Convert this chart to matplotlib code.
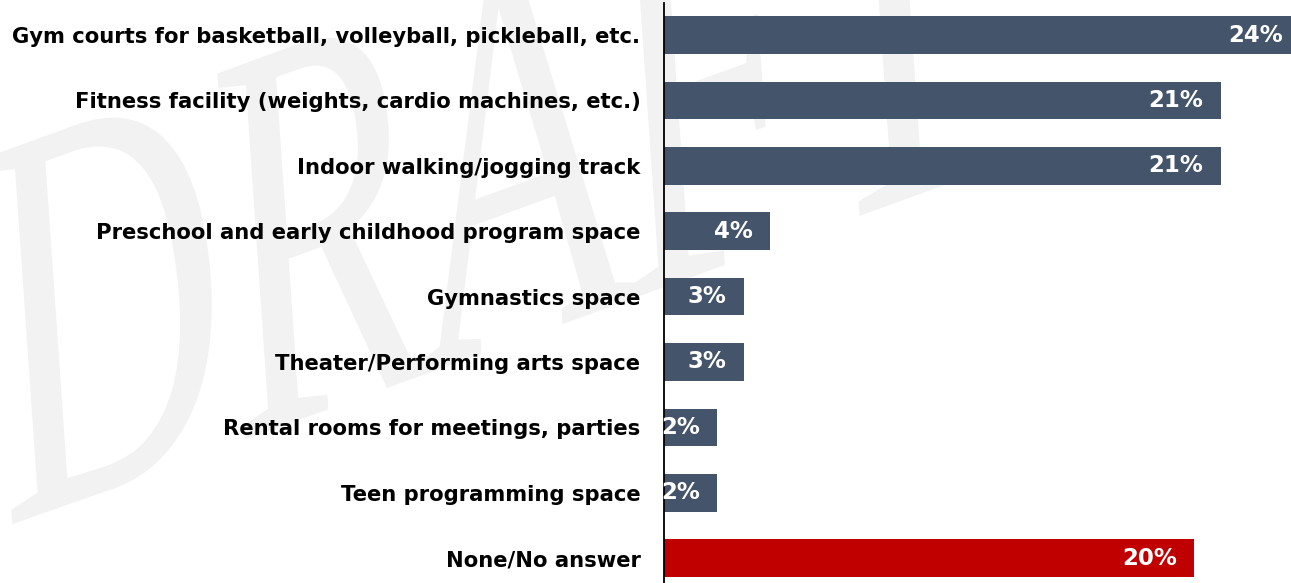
import matplotlib
matplotlib.use('Agg')
import matplotlib.pyplot as plt
from matplotlib.textpath import TextPath
from matplotlib.patches import PathPatch
from matplotlib.font_manager import FontProperties
from matplotlib.transforms import Affine2D, IdentityTransform

# data
categories = [
    'Gym courts for basketball, volleyball, pickleball, etc.',
    'Fitness facility (weights, cardio machines, etc.)',
    'Indoor walking/jogging track',
    'Preschool and early childhood program space',
    'Gymnastics space',
    'Theater/Performing arts space',
    'Rental rooms for meetings, parties',
    'Teen programming space',
    'None/No answer',
]
values = [24, 21, 21, 4, 3, 3, 2, 2, 20]
colors = ['#44546a'] * 8 + ['#c00000']

fig = plt.figure(figsize=(12.91, 5.83), dpi=100)

# DRAFT watermark, stretched tall like the original, in pixel coords
wm = TextPath((0, 0), 'DRAFT', size=1,
              prop=FontProperties(family='Liberation Serif', style='italic'))
wm_tf = Affine2D().scale(340, 540).skew_deg(10, 0).rotate_deg(20).translate(16, 60)
fig.patches.append(PathPatch(wm_tf.transform_path(wm), facecolor='#f2f2f2',
                             edgecolor='none', transform=IdentityTransform(),
                             figure=fig, zorder=-5))

ax = fig.add_axes([664 / 1291, 0, 627 / 1291, 580 / 583])
ax.patch.set_alpha(0)
ax.set_zorder(1)

y = list(range(len(categories)))
ax.barh(y, values, height=0.575, color=colors, zorder=2)

for yi, v in zip(y, values):
    ax.annotate(f'{v}%', xy=(v, yi), xytext=(-17, 0), textcoords='offset pixels',
                ha='right', va='center', color='white', fontsize=16.5,
                fontweight='bold', zorder=3, annotation_clip=False)

ax.set_xlim(0, 627 / 26.5)
ax.set_ylim(8.38, -0.49)
ax.set_yticks(y)
ax.set_yticklabels(categories, fontsize=15.2, fontweight='bold')
ax.tick_params(axis='y', length=0, pad=17)
ax.set_xticks([])
for s in ['top', 'right', 'bottom']:
    ax.spines[s].set_visible(False)
ax.spines['left'].set_linewidth(1.3)
ax.spines['left'].set_color('black')

fig.savefig('out.png', dpi=100)
